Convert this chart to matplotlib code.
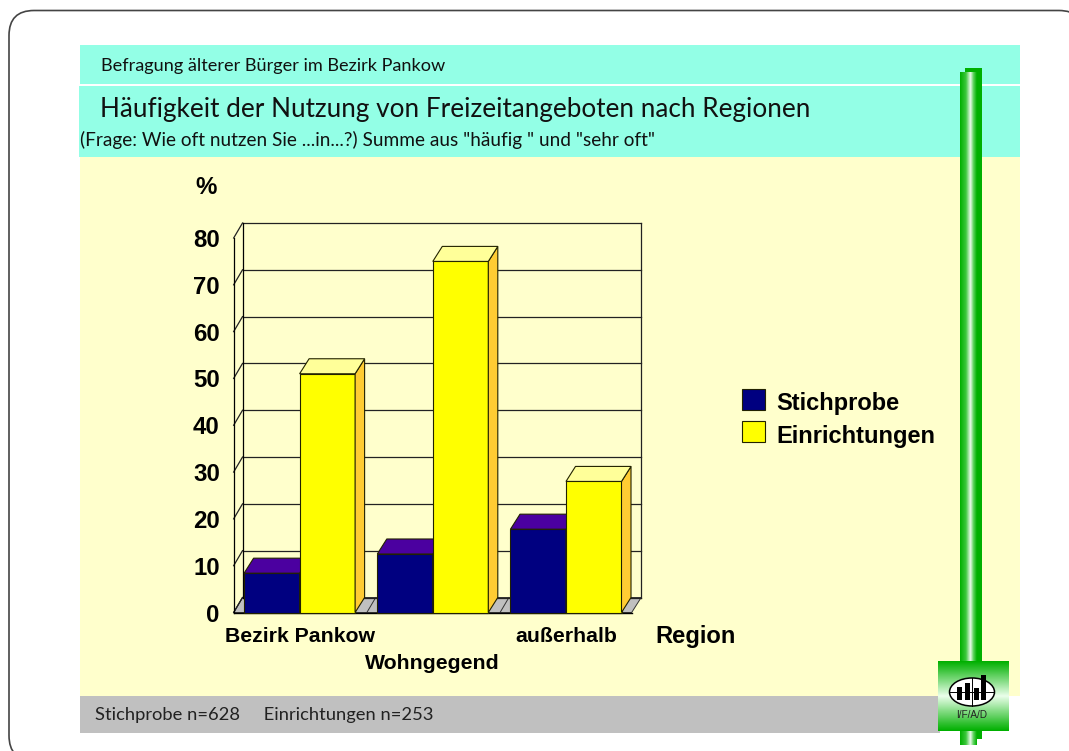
import numpy as np
import matplotlib
matplotlib.use("Agg")
import matplotlib.pyplot as plt
from matplotlib.patches import Rectangle, Polygon, FancyBboxPatch, Ellipse

W, H = 1069, 751

regions = ['Bezirk Pankow', 'Wohngegend', 'außerhalb']
stichprobe = [8.4, 12.5, 17.8]
einrichtungen = [51, 75, 28]
y_ticks = [0, 10, 20, 30, 40, 50, 60, 70, 80]
series_names = ['Stichprobe', 'Einrichtungen']

header_top = 'Befragung älterer Bürger im Bezirk Pankow'
title = 'Häufigkeit der Nutzung von Freizeitangeboten nach Regionen'
subtitle = '(Frage: Wie oft nutzen Sie ...in...?) Summe aus "häufig " und "sehr oft"'
footer = 'Stichprobe n=628     Einrichtungen n=253'

HEAD = ['Lato', 'DejaVu Sans']
BOLD = dict(family='Liberation Sans', fontweight='bold')

fig = plt.figure(figsize=(W / 100, H / 100), dpi=100, facecolor='white')

# slide background, in pixel coordinates
bg = fig.add_axes([0, 0, 1, 1], zorder=0)
bg.set_xlim(0, W)
bg.set_ylim(H, 0)
bg.axis('off')

# the slide frame runs off the right and bottom of the picture
bg.add_patch(FancyBboxPatch((9, 10.5), 1075, 750, boxstyle='round,pad=0,rounding_size=25',
                            fc='white', ec='#444444', lw=1.2))
bg.add_patch(Rectangle((80, 45), 940, 39, fc='#93FFE6', ec='none'))
bg.add_patch(Rectangle((79, 86), 941, 71, fc='#93FFE6', ec='none'))
bg.add_patch(Rectangle((80, 157), 940, 539, fc='#FFFFCC', ec='none'))
bg.add_patch(Rectangle((80, 696), 860, 37, fc='#C0C0C0', ec='none'))

# green pillar
stops = np.array([0, 0.35, 0.62, 0.8, 1.0])
greens = np.array([[0, 176, 0], [60, 200, 60], [235, 250, 235], [90, 210, 90], [0, 176, 0]]) / 255
xs = np.linspace(0, 1, 64)
h_grad = np.stack([np.interp(xs, stops, greens[:, c]) for c in range(3)], axis=-1)[None, :, :]
bg.add_patch(Rectangle((965, 68), 17, 671, fc='#00B000', ec='none', zorder=2))
bg.imshow(h_grad, extent=(960, 977, 745, 72), aspect='auto', zorder=3)

# logo
ys = np.linspace(0, 1, 64)
v_grad = np.stack([np.interp(ys, [0, 0.5, 1], [c0, c1, c0])
                   for c0, c1 in zip((0, 176 / 255, 0), (235 / 255, 1, 235 / 255))], axis=-1)[:, None, :]
bg.imshow(v_grad, extent=(938, 1009, 731, 661), aspect='auto', zorder=4)
bg.add_patch(Ellipse((972, 692), 45, 28, fc='white', ec='black', lw=1.1, zorder=5))
bg.plot([950, 994], [692, 692], color='black', lw=0.7, zorder=6)
bg.plot([972, 972], [678, 706], color='black', lw=0.7, zorder=6)
for lx, ltop in zip((957, 965, 974, 981), (687, 683, 688, 675)):
    bg.add_patch(Rectangle((lx, ltop), 5, 700 - ltop, fc='black', ec='none', zorder=7))
bg.text(971.5, 715, 'I/F/A/D', ha='center', va='center', fontsize=7.2,
        family='Liberation Sans', color='#222222', zorder=7)
bg.set_xlim(0, W)
bg.set_ylim(H, 0)

bg.text(101, 66.5, header_top, fontsize=13.05, family=HEAD, va='center', color='#111111')
bg.text(100, 109, title, fontsize=18.8, family=HEAD, va='center', color='#111111')
bg.text(80, 140, subtitle, fontsize=13.7, family=HEAD, va='center', color='#111111')
bg.text(95, 715, footer, fontsize=13.2, family=HEAD, va='center', color='#222222')

# chart axes = front plane of the 3D box
left, right, base, top = 233, 632.6, 612.5, 238
ax = fig.add_axes([left / W, 1 - base / H, (right - left) / W, (base - top) / H],
                  zorder=1, facecolor='none')
ax.set_xlim(0, 3)
ax.set_ylim(0, 80)
for s in ax.spines.values():
    s.set_visible(False)

dx = 9.5 / (right - left) * 3
dy = 15 / (base - top) * 80
bar_w = 0.4167
end = 2.993
x = np.arange(len(regions)) + 0.5

# floor, back wall, left wall
ax.add_patch(Polygon([(0.005, 0), (dx, dy), (end + dx, dy), (end, 0)], fc='#C0C0C0', ec='#333333',
                     lw=0.7, clip_on=False, zorder=1))
for i in range(3):
    ax.plot([i + 0.005, i + dx], [0, dy], color='#333333', lw=0.7, clip_on=False, zorder=1.1)
for v in y_ticks:
    ax.plot([dx, end + dx], [v + dy, v + dy], color='#222222', lw=0.9, clip_on=False, zorder=1.2)
    ax.plot([0.005, dx], [v, v + dy], color='#222222', lw=0.9, clip_on=False, zorder=1.2)
ax.plot([dx, dx], [dy, 80 + dy], color='black', lw=0.9, clip_on=False, zorder=1.2)
ax.plot([end + dx, end + dx], [dy, 80 + dy], color='#222222', lw=0.9, clip_on=False, zorder=1.2)
ax.plot([0.005, 0.005], [0, 80], color='black', lw=0.9, clip_on=False, zorder=1.2)
ax.plot([0.005, end], [0, 0], color='black', lw=1.0, clip_on=False, zorder=1.3)


def bar3d(xc, val, front, side, cap, z):
    ax.bar(xc, val, bar_w, color=front, edgecolor='#222200', linewidth=0.8, zorder=z, clip_on=False)
    x0, x1 = xc - bar_w / 2, xc + bar_w / 2
    ax.add_patch(Polygon([(x1, 0), (x1 + dx, dy), (x1 + dx, val + dy), (x1, val)], fc=side,
                         ec='#222200', lw=0.8, zorder=z, clip_on=False))
    ax.add_patch(Polygon([(x0, val), (x0 + dx, val + dy), (x1 + dx, val + dy), (x1, val)], fc=cap,
                         ec='#222200', lw=0.8, zorder=z, clip_on=False))


for i in range(len(regions)):
    bar3d(x[i] - bar_w / 2, stichprobe[i], '#000080', '#000060', '#4B00A0', 2 + i)
    bar3d(x[i] + bar_w / 2, einrichtungen[i], '#FFFF00', '#FFCC33', '#FFFF99', 2.5 + i)

ax.set_yticks(y_ticks)
ax.set_yticklabels([str(v) for v in y_ticks], fontsize=17.3, **BOLD)
ax.set_xticks(x)
ax.set_xticklabels(regions, fontsize=15.3, **BOLD)
ax.tick_params(axis='y', length=0, pad=9.5)
ax.tick_params(axis='x', length=0, pad=10.5)
ax.xaxis.get_major_ticks()[1].set_pad(30)

bg.text(206, 187.5, '%', fontsize=17.3, ha='center', va='center', **BOLD)
bg.text(696, 636, 'Region', fontsize=17.1, ha='center', va='center', **BOLD)

# legend
handles = [Rectangle((0, 0), 1, 1, fc='#000080', ec='#222200', lw=0.8),
           Rectangle((0, 0), 1, 1, fc='#FFFF00', ec='#222200', lw=0.8)]
leg = ax.legend(handles, series_names, loc='upper left', bbox_to_anchor=(742 / W, 1 - 388.5 / H),
                bbox_transform=fig.transFigure, frameon=False, borderpad=0, borderaxespad=0,
                handlelength=0.97, handleheight=1.03, handletextpad=0.5, labelspacing=0.36,
                prop=dict(family='Liberation Sans', weight='bold', size=17))
for t in leg.get_texts():
    t.set_y(-3)

fig.savefig('out.png', dpi=100)
